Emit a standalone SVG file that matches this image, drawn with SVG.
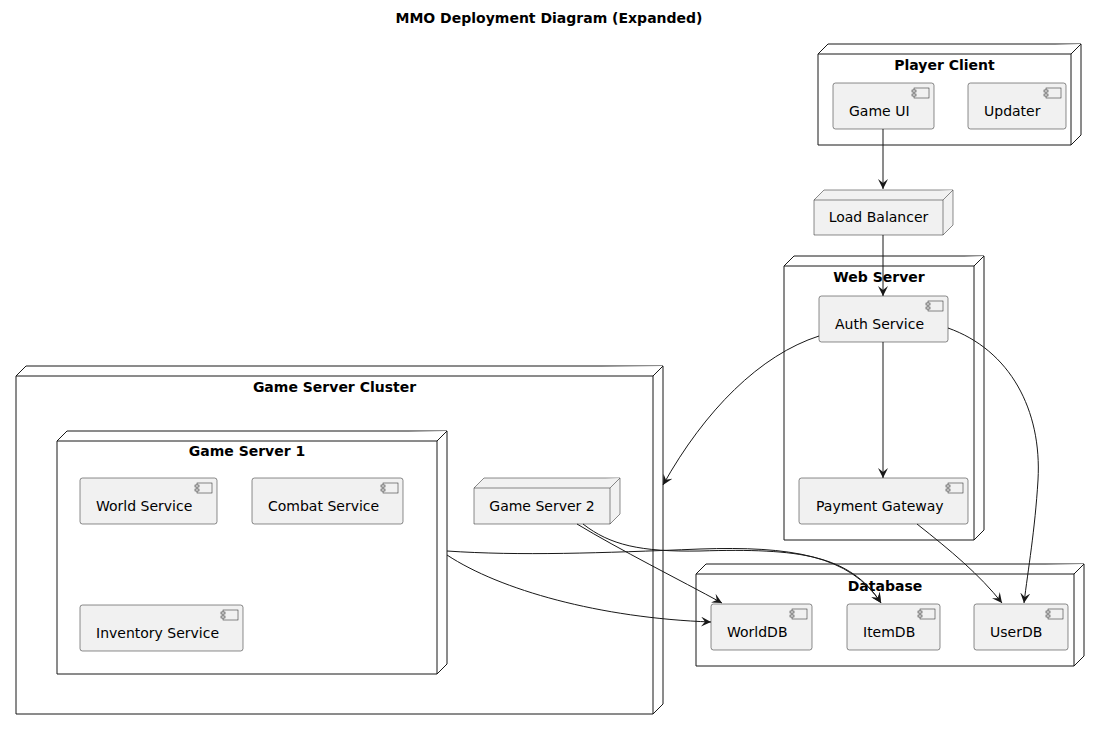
<svg xmlns="http://www.w3.org/2000/svg" width="1099" height="730" viewBox="0 0 1099 730">
<defs>
<marker id="arr" markerWidth="11" markerHeight="10" refX="10" refY="5" orient="auto" markerUnits="userSpaceOnUse">
<path d="M0,0 L10,5 L0,10 L4,5 Z" fill="#181818"/>
</marker>
<style>
.cont{fill:#FFFFFF;stroke:#181818;stroke-width:1}
.leaf{fill:#F1F1F1;stroke:#181818;stroke-width:0.5}
.comp{fill:#F1F1F1;stroke:#181818;stroke-width:0.5}
.ttl{font-family:"DejaVu Sans",sans-serif;font-size:14px;font-weight:bold;fill:#000;text-anchor:middle}
.lbl{font-family:"DejaVu Sans",sans-serif;font-size:14px;fill:#000}
.lblc{font-family:"DejaVu Sans",sans-serif;font-size:14px;fill:#000;text-anchor:middle}
.edge{fill:none;stroke:#181818;stroke-width:1;marker-end:url(#arr)}
</style>
</defs>
<rect width="1099" height="730" fill="#FFFFFF"/>
<text class="ttl" x="549" y="23">MMO Deployment Diagram (Expanded)</text>

<g id="player-client">
<path class="cont" d="M818,54 L828,44 L1081,44 L1081,135 L1071,145 L818,145 Z"/>
<path class="cont" fill="none" d="M818,54 L1071,54 L1081,44 M1071,54 L1071,145"/>
<text class="ttl" x="944.5" y="70">Player Client</text>
</g>
<g id="game-ui">
<rect class="comp" x="833" y="83" width="101" height="46" rx="2.5"/>
<rect class="comp" x="914" y="88" width="15" height="10"/><rect class="comp" x="912" y="90" width="4" height="2"/><rect class="comp" x="912" y="94" width="4" height="2"/>
<text class="lbl" x="849" y="116">Game UI</text>
</g>
<g id="updater">
<rect class="comp" x="968" y="83" width="98" height="46" rx="2.5"/>
<rect class="comp" x="1046" y="88" width="15" height="10"/><rect class="comp" x="1044" y="90" width="4" height="2"/><rect class="comp" x="1044" y="94" width="4" height="2"/>
<text class="lbl" x="984" y="116">Updater</text>
</g>

<g id="load-balancer">
<path class="leaf" d="M814,200 L824,190 L953,190 L953,225 L943,235 L814,235 Z"/>
<path class="leaf" fill="none" d="M814,200 L943,200 L953,190 M943,200 L943,235"/>
<text class="lblc" x="878.5" y="222">Load Balancer</text>
</g>

<g id="web-server">
<path class="cont" d="M784,266 L794,256 L984,256 L984,530 L974,540 L784,540 Z"/>
<path class="cont" fill="none" d="M784,266 L974,266 L984,256 M974,266 L974,540"/>
<text class="ttl" x="879" y="282">Web Server</text>
</g>
<g id="auth-service">
<rect class="comp" x="819" y="296" width="129" height="46" rx="2.5"/>
<rect class="comp" x="928" y="301" width="15" height="10"/><rect class="comp" x="926" y="303" width="4" height="2"/><rect class="comp" x="926" y="307" width="4" height="2"/>
<text class="lbl" x="835" y="329">Auth Service</text>
</g>
<g id="payment-gateway">
<rect class="comp" x="799" y="478" width="169" height="46" rx="2.5"/>
<rect class="comp" x="948" y="483" width="15" height="10"/><rect class="comp" x="946" y="485" width="4" height="2"/><rect class="comp" x="946" y="489" width="4" height="2"/>
<text class="lbl" x="816" y="511">Payment Gateway</text>
</g>

<g id="game-server-cluster">
<path class="cont" d="M16,376 L26,366 L663,366 L663,704 L653,714 L16,714 Z"/>
<path class="cont" fill="none" d="M16,376 L653,376 L663,366 M653,376 L653,714"/>
<text class="ttl" x="334.5" y="392">Game Server Cluster</text>
</g>
<g id="game-server-1">
<path class="cont" d="M57,441 L67,431 L447,431 L447,664 L437,674 L57,674 Z"/>
<path class="cont" fill="none" d="M57,441 L437,441 L447,431 M437,441 L437,674"/>
<text class="ttl" x="247" y="456">Game Server 1</text>
</g>
<g id="world-service">
<rect class="comp" x="80" y="478" width="137" height="46" rx="2.5"/>
<rect class="comp" x="197" y="483" width="15" height="10"/><rect class="comp" x="195" y="485" width="4" height="2"/><rect class="comp" x="195" y="489" width="4" height="2"/>
<text class="lbl" x="96" y="511">World Service</text>
</g>
<g id="combat-service">
<rect class="comp" x="252" y="478" width="151" height="46" rx="2.5"/>
<rect class="comp" x="383" y="483" width="15" height="10"/><rect class="comp" x="381" y="485" width="4" height="2"/><rect class="comp" x="381" y="489" width="4" height="2"/>
<text class="lbl" x="268" y="511">Combat Service</text>
</g>
<g id="inventory-service">
<rect class="comp" x="80" y="605" width="163" height="46" rx="2.5"/>
<rect class="comp" x="223" y="610" width="15" height="10"/><rect class="comp" x="221" y="612" width="4" height="2"/><rect class="comp" x="221" y="616" width="4" height="2"/>
<text class="lbl" x="96" y="638">Inventory Service</text>
</g>
<g id="game-server-2">
<path class="leaf" d="M474,488 L484,478 L620,478 L620,514 L610,524 L474,524 Z"/>
<path class="leaf" fill="none" d="M474,488 L610,488 L620,478 M610,488 L610,524"/>
<text class="lblc" x="542" y="511">Game Server 2</text>
</g>

<g id="database">
<path class="cont" d="M696,574 L706,564 L1084,564 L1084,656 L1074,666 L696,666 Z"/>
<path class="cont" fill="none" d="M696,574 L1074,574 L1084,564 M1074,574 L1074,666"/>
<text class="ttl" x="885" y="591">Database</text>
</g>
<g id="worlddb">
<rect class="comp" x="711" y="604" width="101" height="46" rx="2.5"/>
<rect class="comp" x="792" y="609" width="15" height="10"/><rect class="comp" x="790" y="611" width="4" height="2"/><rect class="comp" x="790" y="615" width="4" height="2"/>
<text class="lbl" x="727" y="637">WorldDB</text>
</g>
<g id="itemdb">
<rect class="comp" x="847" y="604" width="93" height="46" rx="2.5"/>
<rect class="comp" x="920" y="609" width="15" height="10"/><rect class="comp" x="918" y="611" width="4" height="2"/><rect class="comp" x="918" y="615" width="4" height="2"/>
<text class="lbl" x="863" y="637">ItemDB</text>
</g>
<g id="userdb">
<rect class="comp" x="974" y="604" width="94" height="46" rx="2.5"/>
<rect class="comp" x="1048" y="609" width="15" height="10"/><rect class="comp" x="1046" y="611" width="4" height="2"/><rect class="comp" x="1046" y="615" width="4" height="2"/>
<text class="lbl" x="990" y="637">UserDB</text>
</g>

<g id="connectors">
<path class="edge" d="M883,129 L883,189"/>
<path class="edge" d="M883,235 L883,296"/>
<path class="edge" d="M883,342 L883,478"/>
<path class="edge" d="M819,336 C760,355 705,410 663,485"/>
<path class="edge" d="M948,328 C1010,350 1042,410 1038,480 C1035,530 1028,570 1024,603"/>
<path class="edge" d="M917,524 C950,550 980,575 1002,603"/>
<path class="edge" d="M577,524 C620,550 680,580 722,603"/>
<path class="edge" d="M583,524 C610,545 640,552 700,551 C800,548 850,555 881,603"/>
<path class="edge" d="M447,551 C520,556 600,553 700,549 C790,546 850,555 881,603"/>
<path class="edge" d="M447,555 C500,590 600,618 711,622"/>
</g>
</svg>
